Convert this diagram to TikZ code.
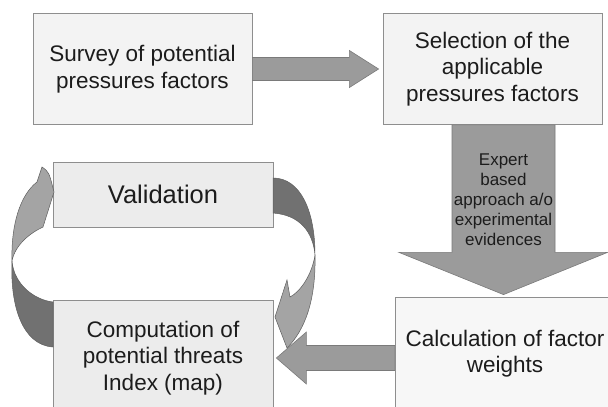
\documentclass[tikz,border=0pt]{standalone}
\usepackage{fontspec}
\setmainfont{Liberation Sans}
\usetikzlibrary{calc}
\definecolor{boxline}{HTML}{8E8E8E}
\definecolor{boxfillA}{HTML}{F3F3F3}
\definecolor{boxfillB}{HTML}{ECECEC}
\definecolor{boxfillC}{HTML}{F7F7F7}
\definecolor{arrowfill}{HTML}{9B9B9B}
\definecolor{arrowline}{HTML}{7A7A7A}
\definecolor{curvelight}{HTML}{A4A4A4}
\definecolor{curvedark}{HTML}{717171}
\definecolor{curveline}{HTML}{5E5E5E}
\definecolor{txt}{HTML}{1C1C1C}
\begin{document}
\begin{tikzpicture}[x=1pt,y=-1pt,
  box/.style={draw=boxline, line width=0.8pt, fill=boxfillA, align=center,
    font=\fontsize{22.5}{26.6}\selectfont, text=txt, inner sep=0pt},
  fatarrow/.style={fill=arrowfill, draw=arrowline, line width=0.6pt, line join=miter},
  backpart/.style={fill=curvedark, draw=curveline, line width=0.5pt},
  frontpart/.style={fill=curvelight, draw=curveline, line width=0.5pt},
  smalltext/.style={font=\fontsize{17}{20}\selectfont, align=center, text=txt, inner sep=0pt}]
\useasboundingbox (0,0) rectangle (608,407);
\clip (0,0) rectangle (608,407);
\fill[white] (0,0) rectangle (608,407);

% boxes
\node[box, minimum width=219pt, minimum height=111pt] (survey) at (142.5,69)
  {Survey of potential\\pressures factors};
\node[box, minimum width=219pt, minimum height=111pt] (select) at (492.5,69)
  {Selection of the\\applicable\\pressures factors};
\node[box, fill=boxfillB, minimum width=220pt, minimum height=65pt,
  font=\fontsize{25.5}{30}\selectfont] (valid) at (163,194.5) {Validation};
\node[box, fill=boxfillB, minimum width=220pt, minimum height=116pt] (comp) at (163,358)
  {Computation of\\potential threats\\Index (map)};
\node[box, fill=boxfillC, minimum width=220pt, minimum height=113pt] (calc) at (505,353.5)
  {Calculation of factor\\weights};

% curved arrows (loop between comp and valid)
\path[backpart] (53,302) .. controls (35,300) and (14,285) .. (12,261)
  .. controls (10,305) and (22,345) .. (53,347) -- cycle;
\path[frontpart] (12,261) .. controls (11,225) and (20,195) .. (37,182)
  -- (42,167) .. controls (49,172) .. (54,192) -- (43,227)
  .. controls (30,233) and (15,245) .. (12,261) -- cycle;
\path[backpart] (273,178) .. controls (300,178) and (315,210) .. (315,255)
  .. controls (313,232) and (300,215) .. (273,213) -- cycle;
\path[frontpart] (315,255) .. controls (312,275) and (300,292) .. (290,297)
  -- (287,280) -- (275,317) -- (287,348)
  .. controls (305,330) and (316,300) .. (315,255) -- cycle;

% straight fat arrows
\coordinate (ra) at ($(select.west)+(-4,0)$);
\path[fatarrow] ($(survey.east)+(0,-11.5)$) -- ++(97,0) -- ++(0,-7) -- (ra)
  -- ($(survey.east)+(97,18.5)$) -- ++(0,-7) -- ($(survey.east)+(0,11.5)$) -- cycle;

\coordinate (dtip) at ($(calc.north)+(-1.5,-2)$);
\path[fatarrow] ($(select.south -| dtip)+(-51.5,0)$) -- ++(0,127.5) -- ++(-53,0) -- (dtip)
  -- ($(select.south -| dtip)+(104,127.5)$) -- ++(-52.5,0)
  -- ($(select.south -| dtip)+(51.5,0)$) -- cycle;
\node[smalltext] (expert) at (503.5,200) {Expert\\based\\approach a/o\\experimental\\evidences};

\coordinate (ltip) at ($(comp.east)+(3,0)$);
\path[fatarrow] ($(ltip -| calc.west)+(0,-12.5)$) -- ($(ltip)+(30,-12.5)$) -- ++(0,-13.5)
  -- (ltip) -- ($(ltip)+(30,26)$) -- ++(0,-13.5) -- ($(ltip -| calc.west)+(0,12.5)$) -- cycle;
\end{tikzpicture}
\end{document}
